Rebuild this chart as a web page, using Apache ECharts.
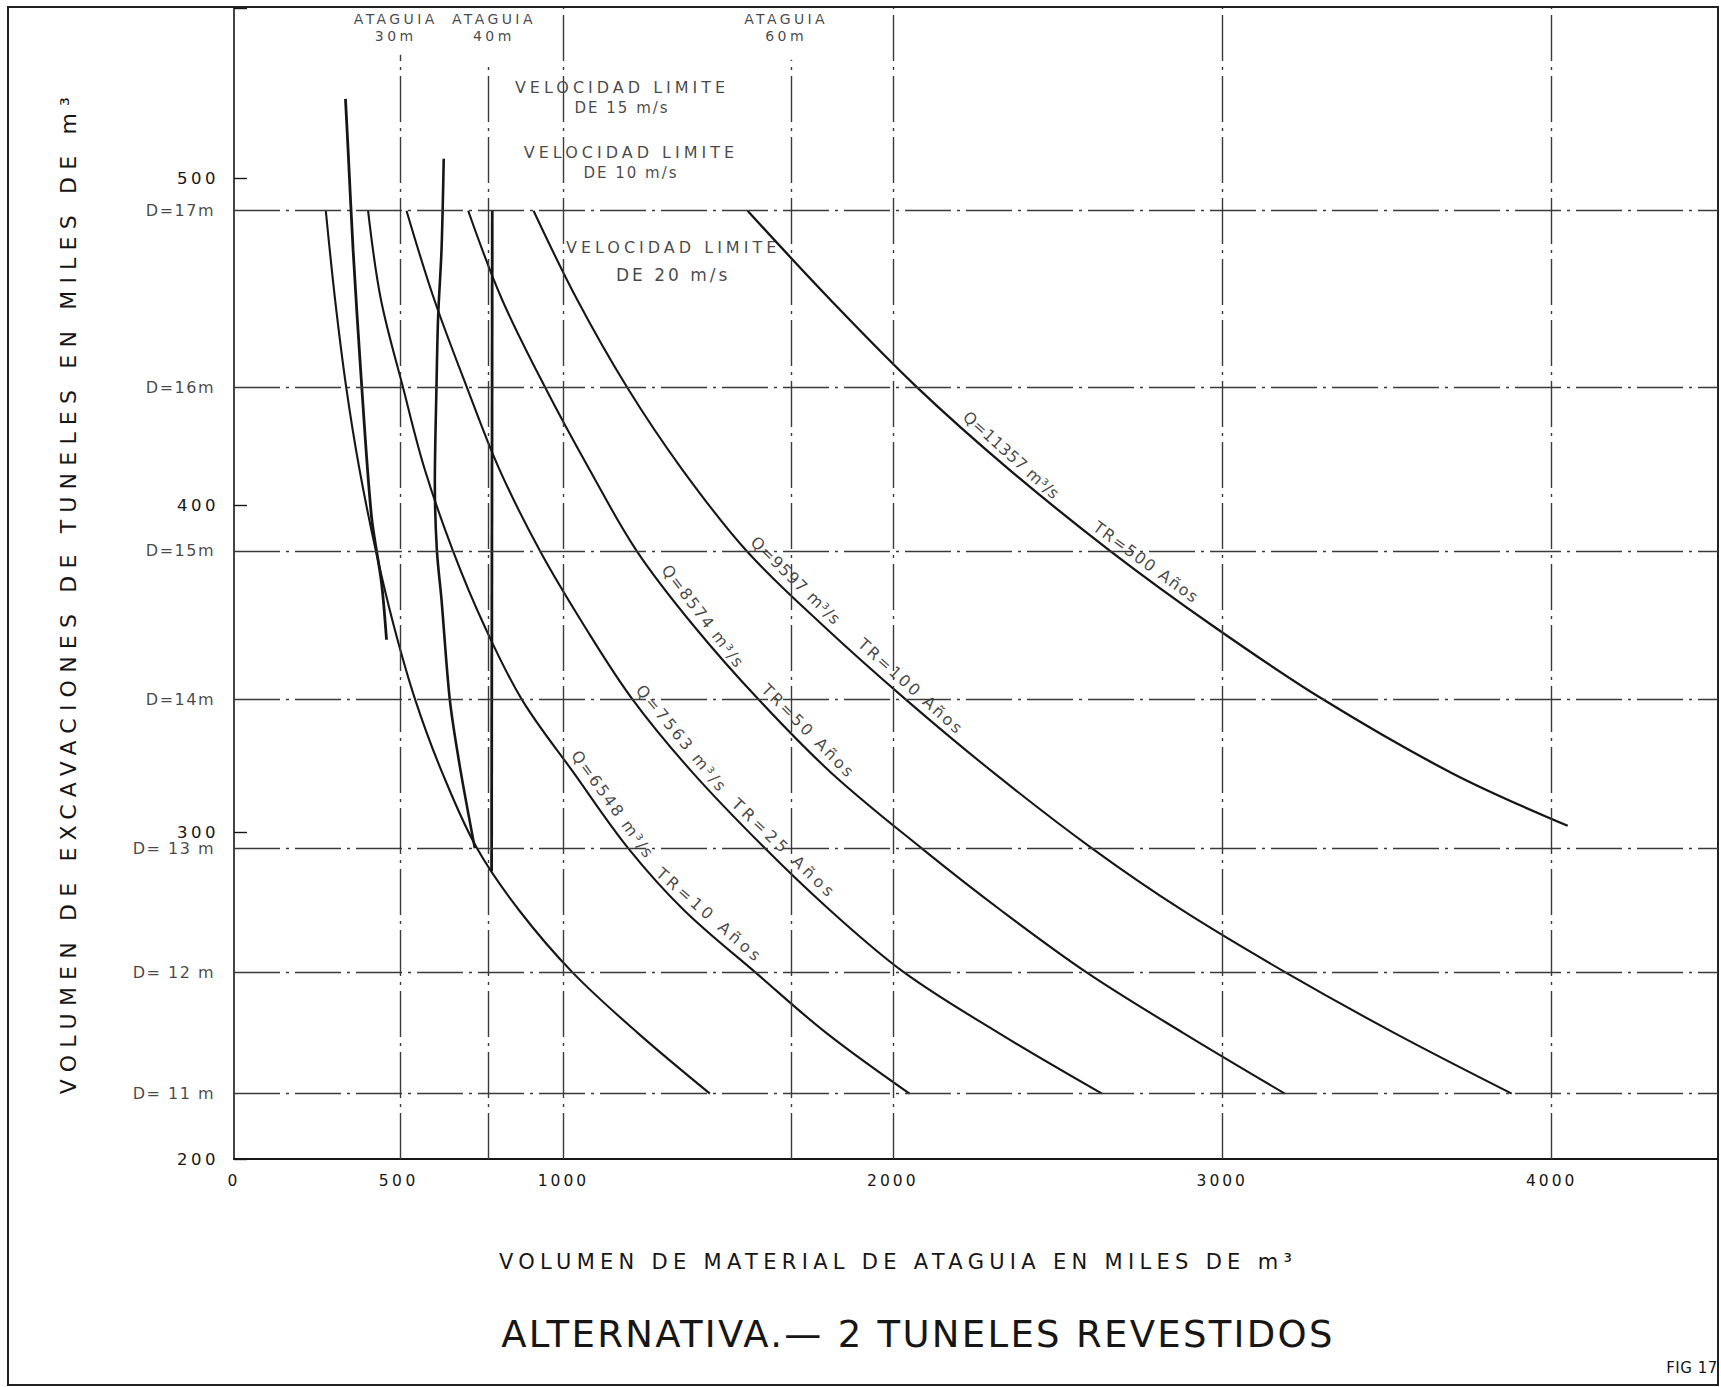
<!DOCTYPE html>
<html>
<head>
<meta charset="utf-8">
<title>Alternativa - 2 tuneles revestidos</title>
<script src="https://cdn.jsdelivr.net/npm/echarts@6.0.0/dist/echarts.min.js"></script>
<style>
  html, body { margin: 0; padding: 0; background: #ffffff; }
  #chart { width: 1721px; height: 1387px; }
</style>
</head>
<body>
<div id="chart"></div>
<script>
// ---- data ------------------------------------------------------------------
// x: cofferdam fill volume (thousand m3), y: tunnel excavation volume (thousand m3)
const xTickValues = [0, 500, 1000, 2000, 3000, 4000];
const yTickValues = [200, 300, 400, 500];
const gridVolumes = [1000, 2000, 3000, 4000];

const diameterLabels  = ['D=17m', 'D=16m', 'D=15m', 'D=14m', 'D= 13 m', 'D= 12 m', 'D= 11 m'];
const diameterVolumes = [490, 436, 386, 340.5, 295, 257, 220];

const ataguiaHeights = ['30m', '40m', '60m'];
const ataguiaVolumes = [504, 772, 1692];

const flowLabels   = ['Q=6548 m³/s', 'Q=7563 m³/s', 'Q=8574 m³/s', 'Q=9597 m³/s', 'Q=11357 m³/s'];
const returnLabels = ['TR=10 Años', 'TR=25 Años', 'TR=50 Años', 'TR=100 Años', 'TR=500 Años'];

// design curves: [cofferdam volume, excavation volume]
const curveBase = [[278.7,490],[306.7,463],[340.7,436],[380.7,411],[430.7,386],[485.3,363],[550,340.5],
  [632.7,318],[737.7,295],[866,276],[1028.3,257],[1226.3,238.5],[1444.7,220]];
const curveQ6548 = [[407,490],[445.7,463],[513,436],[578.7,411],[664.7,386],[760.3,363],[874,340.5],
  [1032,318],[1197,295],[1367,276],[1583.7,257],[1798.7,238.5],[2050.7,220]];
const curveQ7563 = [[523.7,490],[607.3,463],[707,436],[805.3,411],[928.7,386],[1063.7,363],[1210.3,340.5],
  [1393.7,318],[1612,295],[1810.3,276],[2035.3,257],[2322,238.5],[2635,220]];
const curveQ8574 = [[711,490],[813,463],[944.3,436],[1078.3,411],[1222.3,386],[1396,363],[1592.7,340.5],
  [1814.3,318],[2087.7,295],[2329,276],[2589.3,257],[2882.3,238.5],[3190,220]];
const curveQ9597 = [[909.3,490],[1040.7,463],[1193.3,436],[1359.7,411],[1555.7,386],[1789.7,363],[2039.7,340.5],
  [2307.7,318],[2604.7,295],[2880,276],[3193.3,257],[3523.3,238.5],[3878.7,220]];
const curveQ11357 = [[1559,490],[1808.3,463],[2073.7,436],[2351.7,411],[2659.3,386],[2972,363],[3306.7,340.5],
  [3697.7,318],[4048.7,301.9]];

// velocity limit lines
const limit15 = [[338.4,524.2],[346.3,508.7],[361.5,478.1],[387,437.4],[417.4,396.5],[447.8,376.2],[463,358.8]];
const limit10 = [[636.7,505.9],[630,478.1],[619.7,457.7],[614.9,437.3],[609.7,406.7],[615.8,386.3],
  [630,371],[655.2,340.4],[685.7,320],[731.2,295]];
const limit20 = [[784,490],[782,288]];

// ---- layout ----------------------------------------------------------------
const X_MIN = 0, X_MAX = 4505, Y_MIN = 200, Y_MAX = 552;
const FONT = '"DejaVu Sans", "Liberation Sans", sans-serif';
const INK = '#161616';
const GRID_INK = '#3a3a3a';
const DASH_DOT = [46, 6, 3, 6];

const X_TITLE = 'VOLUMEN DE MATERIAL DE ATAGUIA EN MILES DE m³';
const Y_TITLE = 'VOLUMEN DE EXCAVACIONES DE TUNELES EN MILES DE m³';
const TITLE = 'ALTERNATIVA.— 2 TUNELES REVESTIDOS';

// letter spacing per drawn string (applied to the svg text nodes)
const letterGap = new Map();
function spaced(str, px) {
  str.split('\n').forEach(s => letterGap.set(s.replace(/\{\w+\||\}/g, ''), px));
  return str;
}

const ataguiaTops = [537.7, 534.0, 536.2];
const ataguiaNotes = [{ at: [491, 545.9] }, { at: [789, 545.9] }, { at: [1676, 545.9] }];
const velocityNotes = [
  { text: '{a|VELOCIDAD LIMITE}\n{b|DE 15 m/s}', at: [1178, 524.6], lh: 20 },
  { text: '{a|VELOCIDAD LIMITE}\n{b|DE 10 m/s}', at: [1205, 504.7], lh: 20 },
  { text: '{a|VELOCIDAD LIMITE}\n{c|DE 20 m/s}', at: [1333, 474.5], lh: 27 }
];
// notes written along a curve: curve, excavation volume under the text centre, gap in px, letter gap
const curveNotes = [
  { text: flowLabels[0],   curve: curveQ6548,  y: 306,   gap: 13, ls: 2.0 },
  { text: returnLabels[0], curve: curveQ6548,  y: 271.5, gap: 13, ls: 3.7 },
  { text: flowLabels[1],   curve: curveQ7563,  y: 326,   gap: 13, ls: 2.4 },
  { text: returnLabels[1], curve: curveQ7563,  y: 292,   gap: 13, ls: 3.9 },
  { text: flowLabels[2],   curve: curveQ8574,  y: 363.5, gap: 13, ls: 1.6 },
  { text: returnLabels[2], curve: curveQ8574,  y: 328,   gap: 13, ls: 2.7 },
  { text: flowLabels[3],   curve: curveQ9597,  y: 374,   gap: 13, ls: 1.0 },
  { text: returnLabels[3], curve: curveQ9597,  y: 341.5, gap: 13, ls: 2.4 },
  { text: flowLabels[4],   curve: curveQ11357, y: 412.5, gap: 12, ls: 0.4 },
  { text: returnLabels[4], curve: curveQ11357, y: 379.5, gap: 12, ls: 1.6 }
];

// register spacing
xTickValues.forEach(v => spaced(String(v), 3));
yTickValues.forEach(v => spaced(String(v), 3.5));
diameterLabels.forEach(s => spaced(s, 1.5));
ataguiaHeights.forEach(s => spaced(s, 3.5));
spaced('ATAGUIA', 3.4);
spaced('VELOCIDAD LIMITE', 4);
spaced('DE 15 m/s', 2); spaced('DE 10 m/s', 2); spaced('DE 20 m/s', 3);
curveNotes.forEach(n => spaced(n.text, n.ls));
spaced(X_TITLE, 5.3);
spaced(Y_TITLE, 7.2);
spaced(TITLE, 2.3);
spaced('FIG 17', 0.5);

function seg(x0, y0, x1, y1) { return [{ coord: [x0, y0] }, { coord: [x1, y1] }]; }

const guideLines = [];
diameterVolumes.forEach(v => guideLines.push(seg(X_MIN, v, X_MAX, v)));
gridVolumes.forEach(x => guideLines.push(seg(x, Y_MIN, x, Y_MAX)));
ataguiaVolumes.forEach((x, i) => guideLines.push(seg(x, Y_MIN, x, ataguiaTops[i])));

function curveSeries(name, data, width, smooth) {
  return {
    type: 'line', name, data, symbol: 'none', showSymbol: false, smooth: smooth,
    silent: true, z: 3,
    lineStyle: { color: INK, width: width }
  };
}

const textBase = { color: INK, fontFamily: FONT };

const option = {
  animation: false,
  backgroundColor: '#ffffff',
  grid: { left: 234, right: 3, top: 8, bottom: 228, containLabel: false, outerBoundsMode: 'none' },
  xAxis: {
    type: 'value', min: X_MIN, max: X_MAX, interval: 500,
    axisLine: { show: true, onZero: false, lineStyle: { color: INK, width: 2.2 } },
    axisTick: { show: false },
    splitLine: { show: false },
    axisLabel: {
      ...textBase, fontSize: 15.5, margin: 14,
      formatter: v => (xTickValues.includes(v) ? String(v) : '')
    }
  },
  yAxis: {
    type: 'value', min: Y_MIN, max: Y_MAX, interval: 100,
    axisLine: { show: true, onZero: false, lineStyle: { color: INK, width: 1.6 } },
    axisTick: { show: true, inside: true, length: 13, lineStyle: { color: INK, width: 1.4 } },
    splitLine: { show: false },
    axisLabel: {
      ...textBase, fontSize: 16.5, margin: 15,
      formatter: v => (yTickValues.includes(v) ? String(v) : '')
    }
  },
  series: [
    {
      type: 'line', data: [], silent: true, z: 1,
      markLine: {
        silent: true, symbol: ['none', 'none'], label: { show: false },
        lineStyle: { color: GRID_INK, width: 1.4, type: DASH_DOT },
        data: guideLines
      }
    },
    curveSeries('base', curveBase, 2.1, 0.35),
    curveSeries('Q6548', curveQ6548, 2.1, 0.35),
    curveSeries('Q7563', curveQ7563, 2.1, 0.35),
    curveSeries('Q8574', curveQ8574, 2.1, 0.35),
    curveSeries('Q9597', curveQ9597, 2.1, 0.35),
    curveSeries('Q11357', curveQ11357, 2.3, 0.35),
    curveSeries('v15', limit15, 2.8, 0.3),
    curveSeries('v10', limit10, 2.6, 0.3),
    curveSeries('v20', limit20, 2.8, 0),
    {
      // diameter labels on the left of the axis
      type: 'scatter', silent: true, symbolSize: 0,
      data: diameterVolumes.map((v, i) => ({ value: [X_MIN, v], name: diameterLabels[i] })),
      label: { show: true, position: 'left', distance: 19, formatter: '{b}', ...textBase, fontSize: 16 }
    },
    {
      // cofferdam headings
      type: 'scatter', silent: true, symbolSize: 0,
      data: ataguiaNotes.map((n, i) => ({ value: n.at, name: 'ATAGUIA\n' + ataguiaHeights[i] })),
      label: {
        show: true, position: 'inside', formatter: '{b}', ...textBase, fontSize: 14,
        lineHeight: 17, align: 'center', verticalAlign: 'middle'
      }
    },
    {
      // velocity limit notes
      type: 'scatter', silent: true, symbolSize: 0,
      data: velocityNotes.map(n => ({
        value: n.at,
        label: { formatter: n.text, lineHeight: n.lh }
      })),
      label: {
        show: true, position: 'inside', ...textBase, align: 'center', verticalAlign: 'middle',
        rich: {
          a: { ...textBase, fontSize: 16, align: 'center' },
          b: { ...textBase, fontSize: 15, align: 'center' },
          c: { ...textBase, fontSize: 17, align: 'center' }
        }
      }
    },
    {
      // discharge / return period notes along the curves (placed after the first layout)
      id: 'curveNotes', type: 'scatter', silent: true, symbolSize: 0, data: [],
      label: {
        show: true, position: 'inside', ...textBase, fontSize: 16,
        align: 'center', verticalAlign: 'middle'
      }
    }
  ],
  graphic: [
    {
      type: 'rect', silent: true, z: 0,
      shape: { x: 8, y: 7, width: 1710, height: 1378 },
      style: { fill: 'none', stroke: '#222', lineWidth: 2 }
    },
    {
      type: 'text', silent: true, x: 68, y: 592, rotation: Math.PI / 2,
      style: { text: Y_TITLE, fill: INK, fontFamily: FONT, fontSize: 22, align: 'center', verticalAlign: 'middle' }
    },
    {
      type: 'text', silent: true, x: 898, y: 1262,
      style: { text: X_TITLE, fill: INK, fontFamily: FONT, fontSize: 21, align: 'center', verticalAlign: 'middle' }
    },
    {
      type: 'text', silent: true, x: 918, y: 1334,
      style: { text: TITLE, fill: INK, fontFamily: FONT, fontSize: 37, align: 'center', verticalAlign: 'middle' }
    },
    {
      type: 'text', silent: true, x: 1692, y: 1368,
      style: { text: 'FIG 17', fill: INK, fontFamily: FONT, fontSize: 15, align: 'center', verticalAlign: 'middle' }
    }
  ]
};

const chart = echarts.init(document.getElementById('chart'), null, { renderer: 'svg' });
chart.setOption(option);

// put a note just above a curve, turned to follow it
function placeAlong(curve, yv, gap) {
  let i = 0;
  while (i < curve.length - 2 && curve[i + 1][1] > yv) i++;
  const [x0, y0] = curve[i], [x1, y1] = curve[i + 1];
  const t = (y0 - yv) / (y0 - y1);
  const xv = x0 + t * (x1 - x0);
  const p = chart.convertToPixel({ gridIndex: 0 }, [xv, yv]);
  const a = chart.convertToPixel({ gridIndex: 0 }, curve[i]);
  const b = chart.convertToPixel({ gridIndex: 0 }, curve[i + 1]);
  const dx = b[0] - a[0], dy = b[1] - a[1], len = Math.hypot(dx, dy);
  const c = [p[0] + gap * dy / len, p[1] - gap * dx / len];
  return {
    value: chart.convertFromPixel({ gridIndex: 0 }, c),
    rotate: -Math.atan2(dy, dx) * 180 / Math.PI
  };
}

chart.setOption({
  series: [{
    id: 'curveNotes',
    data: curveNotes.map(n => {
      const at = placeAlong(n.curve, n.y, n.gap);
      return { value: at.value, label: { formatter: n.text, rotate: at.rotate } };
    })
  }]
});

function applyLetterGaps() {
  document.querySelectorAll('#chart text').forEach(t => {
    const px = letterGap.get(t.textContent);
    if (px !== undefined) t.style.letterSpacing = px + 'px';
  });
}
chart.on('finished', applyLetterGaps);
applyLetterGaps();
setTimeout(applyLetterGaps, 30);
setTimeout(applyLetterGaps, 200);
</script>
</body>
</html>
